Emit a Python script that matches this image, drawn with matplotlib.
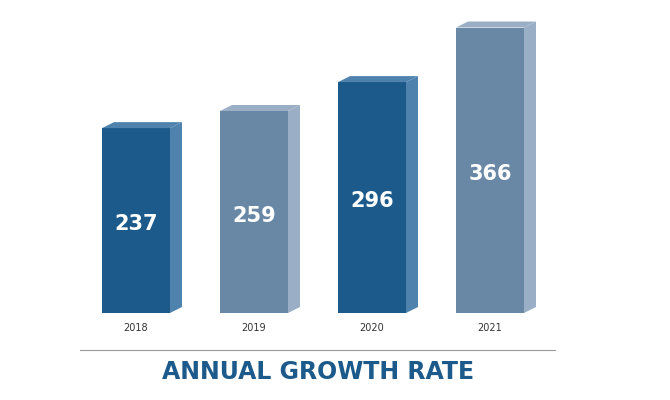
import matplotlib
matplotlib.use("Agg")
import matplotlib.pyplot as plt
from matplotlib.patches import Polygon, Rectangle
from matplotlib import font_manager

years = ["2018", "2019", "2020", "2021"]
values = [237, 259, 296, 366]
front_colors = ["#1b5a8b", "#6888a6", "#1b5a8b", "#6888a6"]
side_colors = ["#4f82ad", "#9aafc5", "#4f82ad", "#9aafc5"]
title = "ANNUAL GROWTH RATE"

names = {f.name for f in font_manager.fontManager.ttflist}
cond = "Liberation Sans Narrow" if "Liberation Sans Narrow" in names else "DejaVu Sans"

fig = plt.figure(figsize=(6.7, 4.0), dpi=100)
ax = fig.add_axes([0, 87/400, 1, 0.78])
ax.set_xlim(-136/118, (670-136)/118)
ax.set_ylim(0, 400)
ax.axis("off")

w = 68/118
dx = 12/118
dy = 6/0.78
for i, (v, fc, sc) in enumerate(zip(values, front_colors, side_colors)):
    x0 = i - w/2
    ax.add_patch(Rectangle((x0, 0), w, v, facecolor=fc, edgecolor="none"))
    ax.add_patch(Polygon([(x0+w, 0), (x0+w+dx, dy), (x0+w+dx, v+dy), (x0+w, v)],
                         closed=True, facecolor=sc, edgecolor="none"))
    ax.add_patch(Polygon([(x0, v), (x0+w, v), (x0+w+dx, v+dy), (x0+dx, v+dy)],
                         closed=True, facecolor=sc, edgecolor="none"))
    ax.text(i, v/2 - 5, str(v), color="white", fontsize=15, fontweight="bold",
            family=cond, ha="center", va="center")
    fig.text(i*118/670 + 136/670, 1 - 328/400, years[i], fontsize=7,
             color="#333333", ha="center", va="center")

fig.add_artist(plt.Line2D([80/670, 555/670], [1-350/400]*2, color="#999999", lw=0.8))
fig.text(318/670, 1 - 372/400, title, color="#1b5a8b", fontsize=17,
         fontweight="bold", family=cond, ha="center", va="center")
fig.savefig("out.png", dpi=100, facecolor="white")
